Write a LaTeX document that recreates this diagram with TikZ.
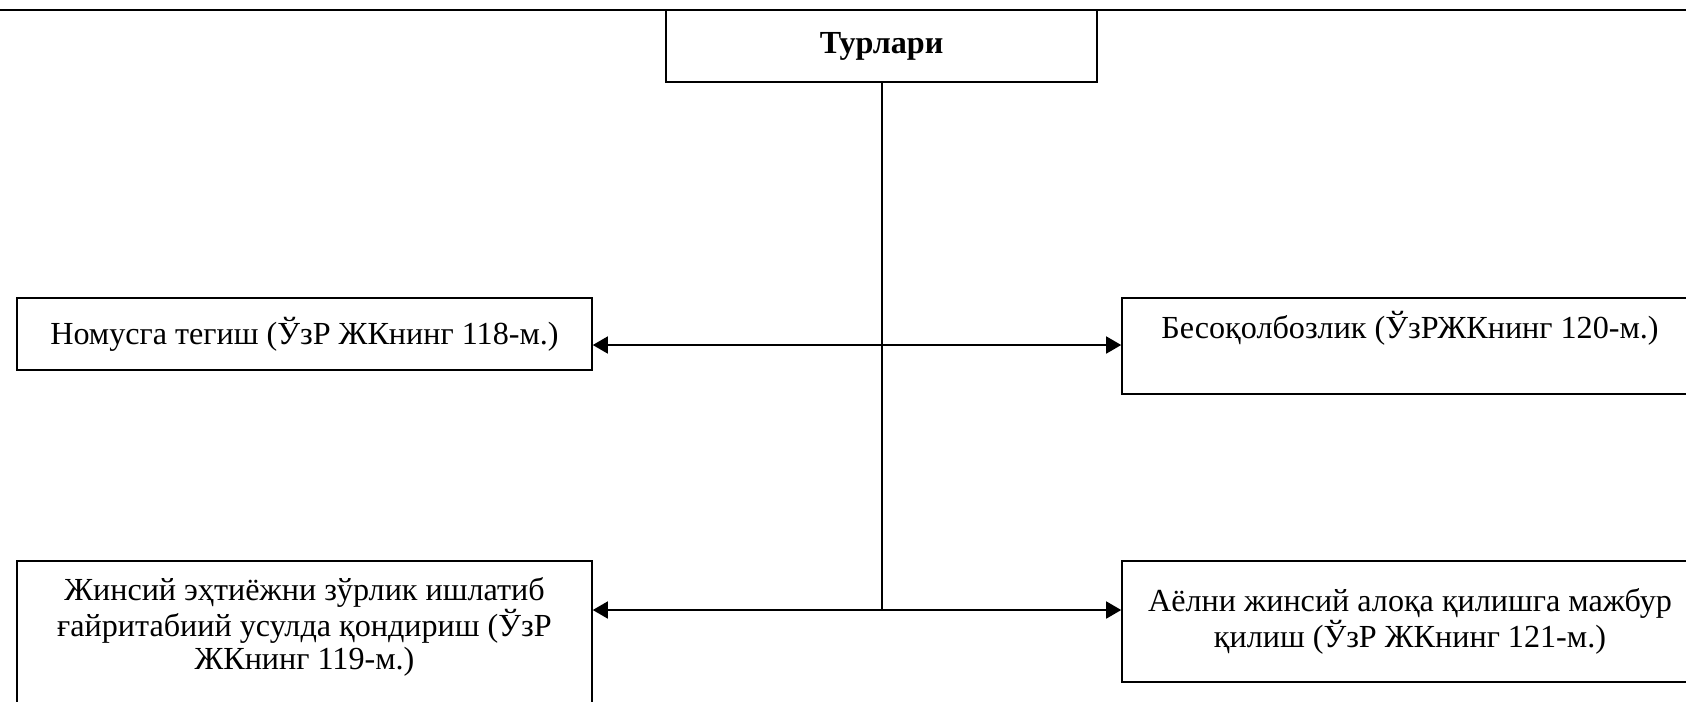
\documentclass[tikz,border=0pt]{standalone}
\usepackage{fontspec}
\setmainfont{Liberation Serif}
\usetikzlibrary{arrows.meta}

\tikzset{
  box/.style={draw, line width=0.9pt, inner sep=0pt, align=center,
    font=\fontsize{18.3}{18.8}\selectfont},
  conn/.style={line width=0.9pt, {Triangle[length=0.3cm,width=0.34cm]}-{Triangle[length=0.3cm,width=0.34cm]}},
  trunk/.style={line width=0.9pt}
}

\begin{document}
\begin{tikzpicture}[x=0.02cm, y=-0.02cm]
  \useasboundingbox (0,0) rectangle (1686,701);
  \draw[line width=1.2pt] (0,10) -- (1686,10);
  \node[box, minimum width=431*0.02cm, minimum height=72*0.02cm] (types) at (881.5,46) {\textbf{Турлари}};
  \node[box, minimum width=575*0.02cm, minimum height=72*0.02cm] (honour) at (304.5,334)
    {Номусга тегиш (ЎзР ЖКнинг 118-м.)};
  \node[box, minimum width=576*0.02cm, minimum height=96*0.02cm] (besoq) at (1410,346)
    {Бесоқолбозлик (ЎзРЖКнинг 120-м.)\\ \strut};
  \node[box, minimum width=575*0.02cm, minimum height=167*0.02cm] (unnat) at (304.5,644.5)
    {Жинсий эҳтиёжни зўрлик ишлатиб\\ ғайритабиий усулда қондириш (ЎзР\\ ЖКнинг 119-м.)\\ \strut};
  \node[box, minimum width=576*0.02cm, minimum height=121*0.02cm] (forced) at (1410,621.5)
    {Аёлни жинсий алоқа қилишга мажбур\\ қилиш (ЎзР ЖКнинг 121-м.)};
  \coordinate (j1) at (882,345);
  \coordinate (j2) at (882,610);
  \draw[trunk] (types.south -| j1) -- (j2);
  \draw[conn] (j1 -| honour.east) -- (j1 -| besoq.west);
  \draw[conn] (j2 -| unnat.east) -- (j2 -| forced.west);
\end{tikzpicture}
\end{document}
